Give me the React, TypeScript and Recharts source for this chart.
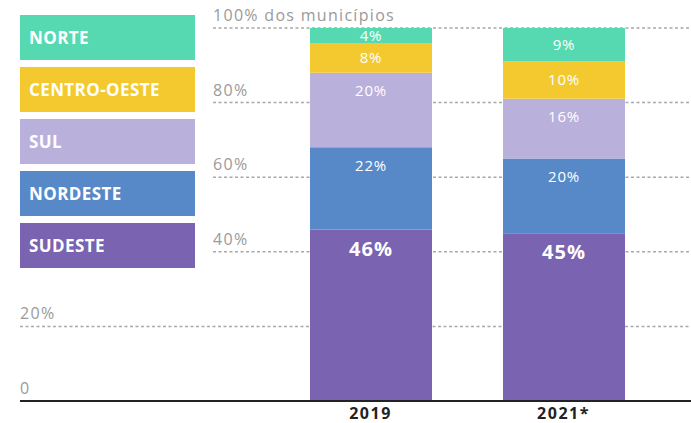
import React from 'react';
import { BarChart, Bar, XAxis, YAxis, CartesianGrid, LabelList } from 'recharts';

const years = ['2019', '2021*'];
const sudeste = [46, 45];
const nordeste = [22, 20];
const sul = [20, 16];
const centroOeste = [8, 10];
const norte = [4, 9];
const yTicks = [0, 20, 40, 60, 80, 100];

const data = years.map((year, i) => ({
  year,
  sudeste: sudeste[i],
  nordeste: nordeste[i],
  sul: sul[i],
  centroOeste: centroOeste[i],
  norte: norte[i],
}));

// stacking order, bottom to top
const series = [
  { key: 'sudeste', name: 'SUDESTE', color: '#7a63b1' },
  { key: 'nordeste', name: 'NORDESTE', color: '#5789c8' },
  { key: 'sul', name: 'SUL', color: '#b9b0dc' },
  { key: 'centroOeste', name: 'CENTRO-OESTE', color: '#f4c930' },
  { key: 'norte', name: 'NORTE', color: '#56d9b0' },
];

const FONT = '"Open Sans", sans-serif';
const LEFT = 20;
const LEGEND_RIGHT = 213;

const GridLine = (props: any) => {
  const { x1, x2, y1, y2, y, height } = props;
  const value = ((y + height - y1) / height) * 100;
  const start = value >= 30 ? LEGEND_RIGHT : x1;
  return (
    <line x1={start} x2={x2} y1={y1} y2={y2} stroke="#a9a9a9" strokeWidth={1.5} strokeDasharray="3 2.5" />
  );
};

const YTick = (props: any) => {
  const { y, payload } = props;
  const v = payload.value;
  const text = v === 100 ? '100% dos municípios' : v === 0 ? '0' : `${v}%`;
  return (
    <text x={v >= 30 ? LEGEND_RIGHT : LEFT} y={y - 7} fill="#9a9a9a" fontSize={16} letterSpacing={1.3} fontFamily={FONT}>
      {text}
    </text>
  );
};

const XTick = (props: any) => {
  const { x, y, payload } = props;
  return (
    <text x={x} y={y + 10} textAnchor="middle" fill="#222" fontSize={16} fontWeight={700} letterSpacing={1.5} fontFamily={FONT}>
      {payload.value}
    </text>
  );
};

const makeLabel = (big: boolean) => (props: any) => {
  const { x, y, width, height, value } = props;
  const cy = y + Math.min(height / 2, big ? 19 : 18);
  return (
    <text x={x + width / 2} y={cy} dy="0.36em" textAnchor="middle" fill="#fff"
      fontSize={big ? 20 : 15} fontWeight={big ? 700 : 400} letterSpacing={big ? 1 : 0.8} fontFamily={FONT}>
      {`${value}%`}
    </text>
  );
};

const legendItems = [...series].reverse();

export default function App() {
  return (
    <div style={{ position: 'absolute', top: 0, left: 0, width: 691, height: 423, background: '#fff' }}>
      <BarChart width={691} height={423} data={data} margin={{ top: 28, right: 0, bottom: 0, left: LEFT - 1 }} barSize={122}>
        <CartesianGrid vertical={false} horizontal={(p: any) => <GridLine {...p} />} />
        <XAxis dataKey="year" height={22} padding={{ left: 254, right: 31 }} tickLine={false}
          axisLine={{ stroke: '#222', strokeWidth: 2 }} tick={<XTick />} />
        <YAxis width={1} domain={[0, 100]} ticks={yTicks} interval={0} axisLine={false} tickLine={false} tick={(p: any) => <YTick {...p} />} />
        {series.map((s) => (
          <Bar key={s.key} dataKey={s.key} name={s.name} stackId="a" fill={s.color} isAnimationActive={false}>
            <LabelList dataKey={s.key} content={makeLabel(s.key === 'sudeste')} />
          </Bar>
        ))}
      </BarChart>
      <div style={{ position: 'absolute', left: LEFT, top: 15, width: 175 }}>
        {legendItems.map((s) => (
          <div key={s.key} style={{
            height: 45, marginBottom: 7, background: s.color, color: '#fff', fontFamily: FONT,
            fontWeight: 700, fontSize: 17, letterSpacing: 0.4, display: 'flex', alignItems: 'center', paddingLeft: 9,
            boxSizing: 'border-box',
          }}>
            {s.name}
          </div>
        ))}
      </div>
    </div>
  );
}
